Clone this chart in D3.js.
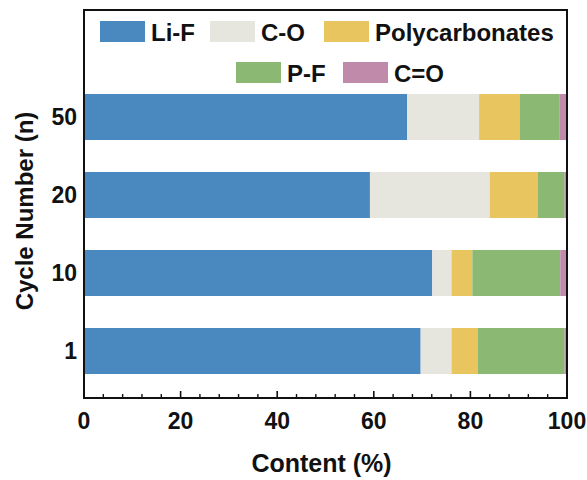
<!DOCTYPE html>
<html><head><meta charset="utf-8">
<script src="https://cdn.jsdelivr.net/npm/d3@7"></script>
<style>body{margin:0;background:#fff}svg{display:block}text{font-family:"Liberation Sans",Arial,sans-serif;font-weight:bold;fill:#111}</style>
</head><body>
<script>
const categories = ["1", "10", "20", "50"];
const seriesNames = ["Li-F", "C-O", "Polycarbonates", "P-F", "C=O"];
const liF = [69.7, 72.1, 59.2, 66.9];
const cO = [6.4, 4.0, 24.8, 14.9];
const polycarbonates = [5.4, 4.3, 9.9, 8.4];
const pF = [18.0, 18.2, 5.6, 8.2];
const cEqO = [0.5, 1.4, 0.5, 1.6];
const xTicks = [0, 20, 40, 60, 80, 100];
const colors = ["#4a89c0", "#e6e5de", "#e8c55e", "#8bb873", "#c08aaa"];

const W = 587, H = 480;
const m = {left: 84, right: 20, top: 10, bottom: 82};
const svg = d3.select("body").append("svg").attr("width", W).attr("height", H);

const x = d3.scaleLinear().domain([0, 100]).range([m.left, W - m.right]);
const y = d3.scaleBand().domain(categories).range([390, 78]).paddingInner(0.41).paddingOuter(0.205);

const rows = categories.map((c, i) => ({cat: c, "Li-F": liF[i], "C-O": cO[i], "Polycarbonates": polycarbonates[i], "P-F": pF[i], "C=O": cEqO[i]}));
const stack = d3.stack().keys(seriesNames)(rows);

svg.append("g").selectAll("g").data(stack).join("g")
  .attr("fill", (d, i) => colors[i])
  .selectAll("rect").data(d => d).join("rect")
  .attr("x", d => x(d[0])).attr("width", d => x(d[1]) - x(d[0]))
  .attr("y", d => y(d.data.cat)).attr("height", y.bandwidth());

// frame
svg.append("rect").attr("x", m.left).attr("y", m.top).attr("width", x(100) - m.left).attr("height", 398 - m.top)
  .attr("fill", "none").attr("stroke", "#111").attr("stroke-width", 2);

// x axis ticks (inward)
const xAxis = svg.append("g").attr("transform", "translate(0,398)");
const minor = d3.range(0, 101, 4).filter(v => v % 20 !== 0);
xAxis.selectAll("line.maj").data(xTicks).join("line").attr("x1", d => x(d)).attr("x2", d => x(d)).attr("y1", 0).attr("y2", -7).attr("stroke", "#111").attr("stroke-width", 1.6);
xAxis.selectAll("line.min").data(minor).join("line").attr("x1", d => x(d)).attr("x2", d => x(d)).attr("y1", 0).attr("y2", -4).attr("stroke", "#111").attr("stroke-width", 1.4);
xAxis.selectAll("text").data(xTicks).join("text").attr("x", d => x(d)).attr("y", 31).attr("text-anchor", "middle").style("font-size", "23px").text(d => d);

// y labels
svg.append("g").selectAll("text").data(categories).join("text")
  .attr("x", 77).attr("y", d => y(d) + y.bandwidth() / 2).attr("dy", "0.36em").attr("text-anchor", "end").style("font-size", "23px").text(d => d);

// axis titles
svg.append("text").attr("x", (m.left + x(100)) / 2 - 4).attr("y", 472).attr("text-anchor", "middle").style("font-size", "25px").text("Content (%)");
svg.append("text").attr("transform", "translate(33,211) rotate(-90)").attr("text-anchor", "middle").style("font-size", "24px").text("Cycle Number (n)");

// legend
const legPos = [[100, 32], [210, 32], [324, 32], [236, 73], [343, 73]];
const leg = svg.append("g").selectAll("g").data(seriesNames).join("g").attr("transform", (d, i) => `translate(${legPos[i][0]},${legPos[i][1]})`);
leg.append("rect").attr("x", 0).attr("y", -11).attr("width", 45).attr("height", 21).attr("fill", (d, i) => colors[i]);
leg.append("text").attr("x", 51).attr("y", 0).attr("dy", "0.36em").style("font-size", "24px").text(d => d);
</script>
</body></html>
